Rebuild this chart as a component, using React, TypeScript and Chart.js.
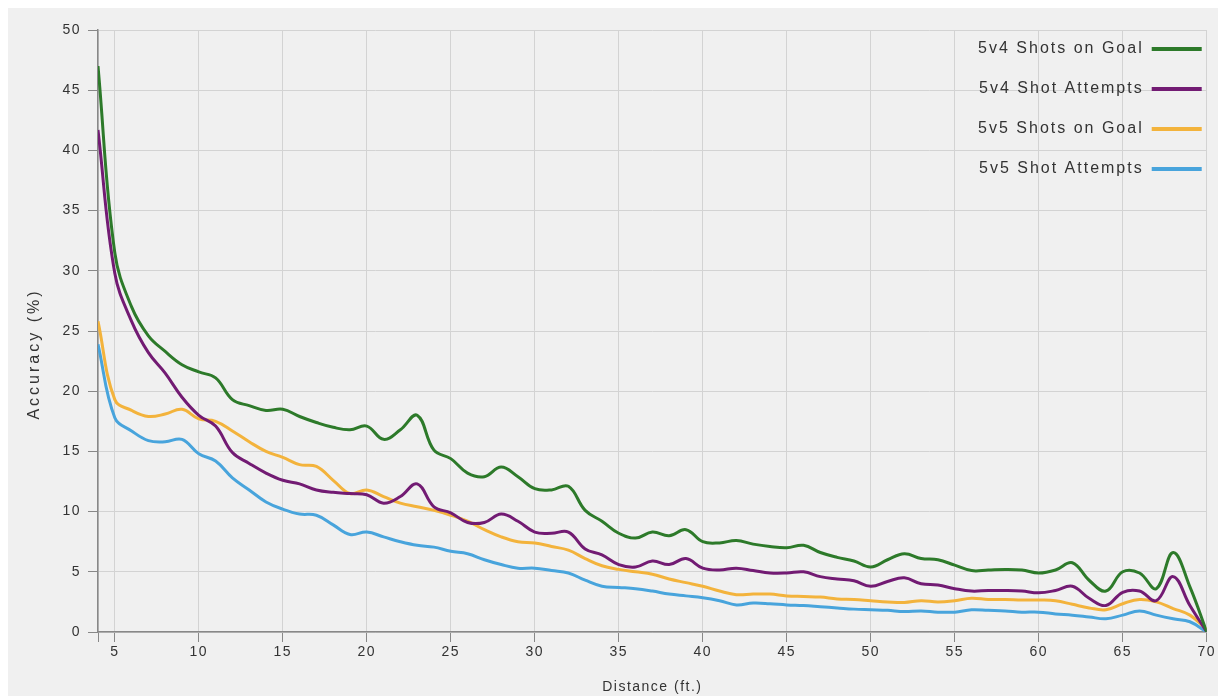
import React, { useEffect, useRef } from 'react';
import { Chart, registerables } from 'chart.js';

Chart.register(...registerables);

// Distance (ft.) of each sample
const distances = [
  4, 5, 6, 7, 8, 9, 10, 11, 12, 13, 14, 15, 16, 17, 18, 19, 20, 21, 22, 23, 24, 25, 26, 27, 28, 29, 30, 31, 32, 33, 34, 35, 36,
  37, 38, 39, 40, 41, 42, 43, 44, 45, 46, 47, 48, 49, 50, 51, 52, 53, 54, 55, 56, 57, 58, 59, 60, 61, 62, 63, 64, 65, 66, 67, 68, 69, 70,
];

// X ticks (4 is the axis origin, shown without label)
const xTickValues = [4, 5, 10, 15, 20, 25, 30, 35, 40, 45, 50, 55, 60, 65, 70];

const sog5v4 = [
  47.0, 31.5, 27.0, 24.6, 23.3, 22.2, 21.6, 21.1, 19.3, 18.8, 18.4, 18.5, 17.9, 17.4, 17.0, 16.8, 17.1, 16.0, 16.8, 18.0,
  15.1, 14.4, 13.2, 12.9, 13.7, 12.9, 11.9, 11.8, 12.1, 10.1, 9.2, 8.2, 7.8, 8.3, 8.0, 8.5, 7.5, 7.4, 7.6, 7.3,
  7.1, 7.0, 7.2, 6.6, 6.2, 5.9, 5.4, 6.0, 6.5, 6.1, 6.0, 5.55, 5.1, 5.15, 5.2, 5.15, 4.9, 5.15, 5.75, 4.3,
  3.4, 5.0, 4.9, 3.6, 6.6, 3.75, 0,
];

const att5v4 = [
  41.7, 29.8, 25.8, 23.2, 21.5, 19.5, 18.0, 17.1, 14.9, 14.0, 13.2, 12.6, 12.3, 11.8, 11.6, 11.5, 11.4, 10.7, 11.25, 12.3,
  10.4, 9.9, 9.1, 9.1, 9.8, 9.2, 8.3, 8.2, 8.3, 6.9, 6.4, 5.6, 5.4, 5.9, 5.6, 6.1, 5.3, 5.15, 5.3, 5.1,
  4.9, 4.9, 5.0, 4.6, 4.4, 4.25, 3.8, 4.2, 4.5, 4.0, 3.9, 3.6, 3.4, 3.45, 3.45, 3.4, 3.25, 3.45, 3.8, 2.8,
  2.2, 3.3, 3.4, 2.6, 4.6, 2.2, 0,
];

const sog5v5 = [
  25.8, 19.3, 18.4, 17.9, 18.1, 18.5, 17.7, 17.5, 16.7, 15.8, 15.0, 14.5, 13.9, 13.75, 12.6, 11.5, 11.8, 11.25, 10.7, 10.4,
  10.1, 9.7, 9.2, 8.5, 7.9, 7.5, 7.4, 7.1, 6.8, 6.1, 5.5, 5.2, 5.0, 4.8, 4.4, 4.1, 3.8, 3.4, 3.1, 3.15,
  3.15, 3.0, 2.95, 2.9, 2.75, 2.7, 2.6, 2.5, 2.45, 2.6, 2.5, 2.6, 2.8, 2.7, 2.7, 2.65, 2.65, 2.6, 2.3, 2.0,
  1.85, 2.35, 2.7, 2.5, 1.95, 1.4, 0.2,
];

const att5v5 = [
  23.9, 17.8, 16.7, 15.9, 15.8, 16.0, 14.8, 14.2, 12.8, 11.8, 10.8, 10.2, 9.8, 9.7, 8.9, 8.1, 8.3, 7.9, 7.5, 7.2,
  7.05, 6.7, 6.5, 6.0, 5.6, 5.3, 5.3, 5.1, 4.9, 4.3, 3.8, 3.7, 3.6, 3.4, 3.15, 3.0, 2.85, 2.6, 2.25, 2.4,
  2.35, 2.25, 2.2, 2.1, 2.0, 1.9, 1.85, 1.8, 1.7, 1.75, 1.65, 1.65, 1.85, 1.8, 1.75, 1.65, 1.65, 1.5, 1.4, 1.25,
  1.1, 1.4, 1.75, 1.4, 1.1, 0.85, 0,
];

const seriesLabels = ['5v4 Shots on Goal', '5v4 Shot Attempts', '5v5 Shots on Goal', '5v5 Shot Attempts'];
const seriesColors = ['#2d7a2a', '#721b73', '#f3b33c', '#48a4dc'];
const seriesValues = [sog5v4, att5v4, sog5v5, att5v5];

const xTitle = 'Distance (ft.)';
const yTitle = 'Accuracy (%)';

const FONT = '"Liberation Sans", Arial, sans-serif';
const CANVAS_W = 1210;
const CANVAS_H = 688;

const spacingPlugin = {
  id: 'textSpacing',
  beforeLayout(chart: any) {
    chart.ctx.letterSpacing = '1.5px';
  },
  beforeDraw(chart: any) {
    chart.ctx.letterSpacing = '1.5px';
  },
};

const yTitlePlugin = {
  id: 'yTitle',
  afterDraw(chart: any) {
    const { ctx } = chart;
    ctx.save();
    ctx.font = `16px ${FONT}`;
    ctx.letterSpacing = '3px';
    ctx.fillStyle = '#333333';
    ctx.textAlign = 'center';
    ctx.textBaseline = 'middle';
    ctx.translate(27, 346);
    ctx.rotate(-Math.PI / 2);
    ctx.fillText(yTitle, 0, 0);
    ctx.restore();
  },
};

const legendPlugin = {
  id: 'insideLegend',
  afterDraw(chart: any) {
    const { ctx, chartArea } = chart;
    ctx.save();
    ctx.font = `16px ${FONT}`;
    ctx.letterSpacing = '2px';
    ctx.fillStyle = '#333333';
    ctx.textAlign = 'right';
    ctx.textBaseline = 'middle';
    chart.data.datasets.forEach((ds: any, i: number) => {
      const y = chartArea.top + 19 + i * 40;
      const lineEnd = chartArea.right - 5;
      const lineStart = lineEnd - 50;
      ctx.fillText(ds.label, lineStart - 8, y);
      ctx.strokeStyle = ds.borderColor;
      ctx.lineWidth = 4;
      ctx.beginPath();
      ctx.moveTo(lineStart, y);
      ctx.lineTo(lineEnd, y);
      ctx.stroke();
    });
    ctx.restore();
  },
};

export default function App() {
  const canvasRef = useRef<HTMLCanvasElement | null>(null);

  useEffect(() => {
    if (!canvasRef.current) return;
    const datasets = seriesLabels.map((label, i) => ({
      label,
      data: distances.map((d, j) => ({ x: d, y: seriesValues[i][j] })),
      borderColor: seriesColors[i],
      backgroundColor: seriesColors[i],
      borderWidth: 3,
      pointRadius: 0,
      pointHoverRadius: 0,
      tension: 0.4,
      fill: false,
    }));

    const chart = new Chart(canvasRef.current, {
      type: 'line',
      data: { datasets },
      plugins: [spacingPlugin, legendPlugin, yTitlePlugin],
      options: {
        animation: false,
        responsive: false,
        maintainAspectRatio: false,
        layout: { padding: { left: 0, top: 22, right: 0, bottom: 0 } },
        plugins: {
          legend: { display: false },
          tooltip: { enabled: false },
        },
        scales: {
          x: {
            type: 'linear',
            min: 4,
            max: 70,
            afterBuildTicks: (scale: any) => {
              scale.ticks = xTickValues.map((v) => ({ value: v }));
            },
            afterFit: (scale: any) => {
              scale.height = CANVAS_H - 624;
            },
            ticks: {
              autoSkip: false,
              maxRotation: 0,
              padding: 2,
              color: '#333333',
              font: { family: FONT, size: 14 },
              callback: (v: any) => (v === 4 ? '' : String(v)),
            },
            grid: {
              color: '#d3d3d3',
              lineWidth: 1,
              tickLength: 10,
              tickColor: '#888888',
              drawTicks: true,
            },
            border: { color: '#888888', width: 1.5 },
            title: {
              display: true,
              text: xTitle,
              color: '#333333',
              font: { family: FONT, size: 14 },
              padding: { top: 0, bottom: 0 },
            },
          },
          y: {
            type: 'linear',
            min: 0,
            max: 50,
            afterFit: (scale: any) => {
              scale.width = 90;
            },
            ticks: {
              stepSize: 5,
              padding: 7,
              color: '#333333',
              font: { family: FONT, size: 14 },
            },
            grid: {
              color: '#d3d3d3',
              lineWidth: 1,
              tickLength: 10,
              tickColor: '#888888',
            },
            border: { color: '#888888', width: 1.5 },
            title: { display: false },
          },
        },
      } as any,
    });

    return () => {
      chart.destroy();
    };
  }, []);

  return (
    <div
      style={{
        position: 'absolute',
        left: 8,
        top: 8,
        width: CANVAS_W,
        height: CANVAS_H,
        background: '#f0f0f0',
      }}
    >
      <canvas ref={canvasRef} width={CANVAS_W} height={CANVAS_H} style={{ display: 'block' }} />
    </div>
  );
}
